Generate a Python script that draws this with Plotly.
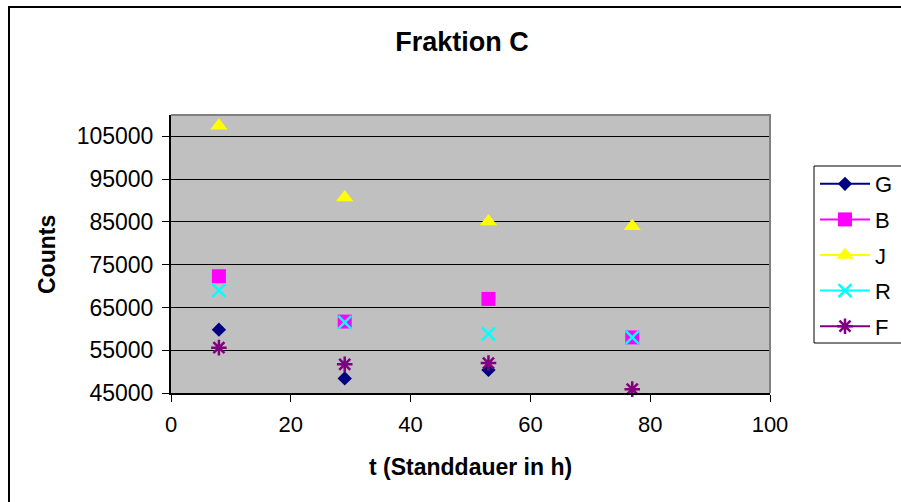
import plotly.graph_objects as go

# Data
t_hours = [8, 29, 53, 77]
series_names = ["G", "B", "J", "R", "F"]
G = [59800, 48400, 50400, None]
B = [72300, 61700, 67000, 58000]
J = [107500, 90700, 85100, 84000]
R = [69000, 61500, 58800, 58000]
F = [55600, 51700, 52000, 45900]

colors = {"G": "#000080", "B": "#FF00FF", "J": "#FFFF00", "R": "#00FFFF", "F": "#800080"}
symbols = {"G": "diamond", "B": "square", "J": "triangle-up", "R": "x-thin", "F": "asterisk"}
sizes = {"G": 11, "B": 14, "J": 15, "R": 13, "F": 13}
values = {"G": G, "B": B, "J": J, "R": R, "F": F}

FONT = "Liberation Sans, Arial, sans-serif"

W, H = 901, 502
L, R_, T, Bm = 171, 131, 115, 109
pw = W - L - R_
ph = H - T - Bm


def px_x(p):
    return (p - L) / pw


def px_y(p):
    return (H - Bm - p) / ph


fig = go.Figure()
for i, n in enumerate(series_names):
    open_sym = symbols[n] in ("x-thin", "asterisk")
    mk = dict(symbol=symbols[n], size=sizes[n], color=colors[n],
              line=dict(color=colors[n], width=2.5 if open_sym else 0))
    fig.add_trace(go.Scatter(x=t_hours, y=values[n], mode="markers", marker=mk,
                             name=n, showlegend=False, legendgroup=n, cliponaxis=False))
    fig.add_trace(go.Scatter(x=[None], y=[None], mode="lines+markers", marker=mk,
                             line=dict(color=colors[n], width=2), name=n,
                             showlegend=True, legendgroup=n))

fig.update_layout(
    width=W, height=H,
    margin=dict(l=L, r=R_, t=T, b=Bm, autoexpand=False),
    paper_bgcolor="white",
    plot_bgcolor="#C0C0C0",
    font=dict(family=FONT, size=22, color="black"),
    showlegend=True,
    legend=dict(x=px_x(815), y=px_y(163), xanchor="left", yanchor="top",
                bgcolor="rgba(0,0,0,0)", borderwidth=0,
                font=dict(size=22, family=FONT), tracegroupgap=4,
                itemwidth=50),
    title=dict(text="<b>Fraktion C</b>", x=px_x(462), xref="paper", xanchor="center",
               y=1 - 42 / H, yref="container", yanchor="middle",
               font=dict(size=27, family=FONT, color="black")),
)

fig.update_xaxes(range=[0, 100], dtick=20, tick0=0, showgrid=False, zeroline=False,
                 showline=True, linecolor="black", linewidth=2,
                 ticks="outside", ticklen=7, tickcolor="black", tickwidth=1,
                 ticklabelstandoff=4,
                 tickfont=dict(size=22, family=FONT))
fig.update_yaxes(range=[45000, 110000], dtick=10000, tick0=45000, tickformat="d",
                 showgrid=True, gridcolor="black", gridwidth=1, zeroline=False,
                 showline=True, linecolor="black", linewidth=2,
                 ticks="outside", ticklen=7, tickcolor="black", tickwidth=1,
                 ticklabelstandoff=4,
                 tickfont=dict(size=23, family=FONT))

fig.add_annotation(text="<b>t (Standdauer in h)</b>", xref="paper", yref="paper",
                   x=px_x(470), y=px_y(467), showarrow=False,
                   xanchor="center", yanchor="middle",
                   font=dict(size=23, family=FONT, color="black"))
fig.add_annotation(text="<b>Counts</b>", xref="paper", yref="paper",
                   x=px_x(47), y=px_y(255), showarrow=False, textangle=-90,
                   xanchor="center", yanchor="middle",
                   font=dict(size=23, family=FONT, color="black"))

# plot area border (top/right gray)
fig.add_shape(type="path", xref="paper", yref="paper", path="M 0,1 L 1,1 L 1,0",
              line=dict(color="#808080", width=2), layer="above")
# outer chart border (left and top visible; right/bottom run off the image)
ox0, oy0, oy1, ox1 = px_x(9), px_y(7), px_y(502), px_x(901)
fig.add_shape(type="path", xref="paper", yref="paper",
              path=f"M {ox0},{oy1} L {ox0},{oy0} L {ox1},{oy0}",
              line=dict(color="black", width=2), layer="below")
# legend frame (runs off the right edge like the reference)
lx0, ly0, ly1, lx1 = px_x(814), px_y(166), px_y(343), px_x(901)
fig.add_shape(type="path", xref="paper", yref="paper",
              path=f"M {lx1},{ly0} L {lx0},{ly0} L {lx0},{ly1} L {lx1},{ly1}",
              line=dict(color="black", width=1), fillcolor="white", layer="below")

fig.write_html("out.html")
